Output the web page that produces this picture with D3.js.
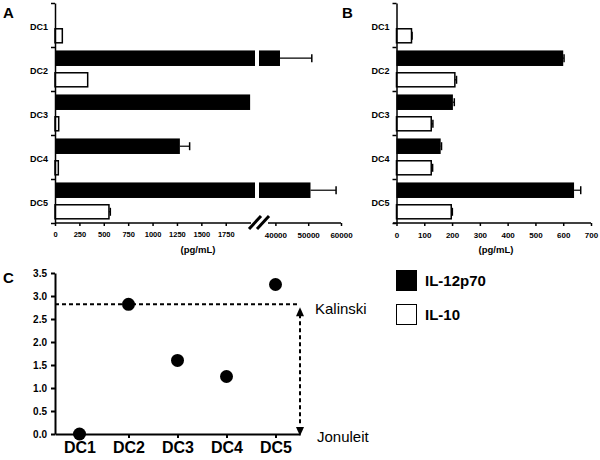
<!DOCTYPE html>
<html>
<head>
<meta charset="utf-8">
<script src="https://cdn.jsdelivr.net/npm/d3@7"></script>
<style>
  body { margin: 0; background: #fff; }
  svg { display: block; font-family: "Liberation Sans", Arial, sans-serif; }
</style>
</head>
<body>
<div id="chart"></div>
<script>
var categories = ['DC1', 'DC2', 'DC3', 'DC4', 'DC5'];
var series = ['IL-12p70', 'IL-10'];

// panel A (broken axis)
var aIL12 = [0, 41400, 2000, 1280, 50700];
var aIL12Err = [0, 9700, 0, 100, 7800];
var aIL10 = [75, 335, 38, 34, 553];
var aIL10Err = [0, 0, 0, 0, 14];
var aTicksLow = [0, 250, 500, 750, 1000, 1250, 1500, 1750];
var aTicksHigh = [40000, 50000, 60000];

// panel B
var bIL12 = [0, 600, 203, 159, 639];
var bIL12Err = [0, 3, 5, 3, 24];
var bIL10 = [54, 210, 125, 125, 197];
var bIL10Err = [2, 6, 6, 5, 4];
var bTicks = [0, 100, 200, 300, 400, 500, 600, 700];

// panel C
var cRatio = [0, 2.82, 1.6, 1.25, 3.25];
var cTicks = [0, 0.5, 1, 1.5, 2, 2.5, 3, 3.5];
var kalinski = 2.82;

var svg = d3.select('#chart')
	.append('svg')
	.attr('width', 600)
	.attr('height', 460);

function panelLabel(t, x, y) {
	svg.append('text').text(t)
		.attr('x', x).attr('y', y)
		.style('font-size', '15px')
		.style('font-weight', 'bold');
}

function styleAxis(g, fs) {
	g.selectAll('path, line').attr('stroke', '#000').attr('stroke-width', 1.5);
	g.selectAll('text')
		.style('font-family', '"Liberation Sans", Arial, sans-serif')
		.style('font-size', fs + 'px')
		.style('font-weight', 'bold')
		.attr('fill', '#000');
}

// shared vertical band layout for A and B
var yBand = d3.scaleBand().domain(categories).range([3, 223]);
var ySub = d3.scaleBand().domain(series).range([0, yBand.bandwidth()])
	.paddingInner(0.28).paddingOuter(0.16);

function catAxis(x0) {
	var ticks = svg.append('g')
		.attr('transform', 'translate(' + x0 + ',0)')
		.call(d3.axisLeft(d3.scaleLinear().domain([0, 5]).range([3, 223]))
			.ticks(5).tickSize(4).tickSizeOuter(0).tickFormat(''));
	styleAxis(ticks, 8);
	var labels = svg.append('g')
		.attr('transform', 'translate(' + (x0 - 7) + ',2)')
		.call(d3.axisLeft(yBand).tickSize(0).tickPadding(0));
	labels.select('.domain').remove();
	styleAxis(labels, 9);
}

function errBars(g, vals, errs, key, xf) {
	var d = categories.map(function(c, i) { return {c: c, v: vals[i], e: errs[i]}; })
		.filter(function(o) { return o.e > 0; });
	var eg = g.selectAll('.err-' + key).data(d).enter().append('g');
	eg.append('line')
		.attr('x1', function(o) { return xf(o.v); })
		.attr('x2', function(o) { return xf(o.v + o.e); })
		.attr('y1', function(o) { return yBand(o.c) + ySub(key) + ySub.bandwidth() / 2; })
		.attr('y2', function(o) { return yBand(o.c) + ySub(key) + ySub.bandwidth() / 2; })
		.attr('stroke', '#000').attr('stroke-width', 1.2);
	eg.append('line')
		.attr('x1', function(o) { return xf(o.v + o.e); })
		.attr('x2', function(o) { return xf(o.v + o.e); })
		.attr('y1', function(o) { return yBand(o.c) + ySub(key) + ySub.bandwidth() / 2 - 4; })
		.attr('y2', function(o) { return yBand(o.c) + ySub(key) + ySub.bandwidth() / 2 + 4; })
		.attr('stroke', '#000').attr('stroke-width', 1.5);
}

// ---------- panel A ----------
var xLow = d3.scaleLinear().domain([0, 2050]).range([55, 255]);
var xHigh = d3.scaleLinear().domain([35000, 60000]).range([259, 341]);
function xA(v) { return v <= 2050 ? xLow(v) : xHigh(v); }

var gA = svg.append('g');
var il12A = categories.map(function(c, i) { return {c: c, v: aIL12[i]}; });
// low segment
gA.selectAll('.a12low').data(il12A.filter(function(d) { return d.v > 0; })).enter()
	.append('rect')
	.attr('x', xLow(0))
	.attr('y', function(d) { return yBand(d.c) + ySub('IL-12p70'); })
	.attr('width', function(d) { return xLow(Math.min(d.v, 2050)) - xLow(0); })
	.attr('height', ySub.bandwidth())
	.attr('fill', '#000');
// high segment (past the break)
gA.selectAll('.a12high').data(il12A.filter(function(d) { return d.v > 2050; })).enter()
	.append('rect')
	.attr('x', xHigh.range()[0])
	.attr('y', function(d) { return yBand(d.c) + ySub('IL-12p70'); })
	.attr('width', function(d) { return xHigh(d.v) - xHigh.range()[0]; })
	.attr('height', ySub.bandwidth())
	.attr('fill', '#000');
gA.selectAll('.a10').data(categories).enter()
	.append('rect')
	.attr('x', xLow(0))
	.attr('y', function(c) { return yBand(c) + ySub('IL-10') + 0.75; })
	.attr('width', function(c, i) { return xLow(aIL10[i]) - xLow(0); })
	.attr('height', ySub.bandwidth() - 1.5)
	.attr('fill', '#fff').attr('stroke', '#000').attr('stroke-width', 1.5);
errBars(gA, aIL12, aIL12Err, 'IL-12p70', xA);
errBars(gA, aIL10, aIL10Err, 'IL-10', xA);

var axLow = svg.append('g').attr('transform', 'translate(0,223)')
	.call(d3.axisBottom(xLow).tickValues(aTicksLow).tickFormat(d3.format('d'))
		.tickSize(3).tickSizeOuter(0).tickPadding(6));
axLow.select('.domain').attr('d', 'M' + xLow(0) + ',0H251');
styleAxis(axLow, 7.5);
var axHigh = svg.append('g').attr('transform', 'translate(0,223)')
	.call(d3.axisBottom(xHigh).tickValues(aTicksHigh).tickFormat(d3.format('d'))
		.tickSize(3).tickSizeOuter(0).tickPadding(6));
axHigh.select('.domain').attr('d', 'M268,0H' + xHigh(60000));
styleAxis(axHigh, 8);
// break marks
[0, 8].forEach(function(dx) {
	svg.append('line')
		.attr('x1', 249 + dx).attr('y1', 229)
		.attr('x2', 261 + dx).attr('y2', 216)
		.attr('stroke', '#000').attr('stroke-width', 3);
});
catAxis(55);
svg.append('text').text('(pg/mL)')
	.attr('x', 198).attr('y', 253).attr('text-anchor', 'middle')
	.style('font-size', '9.5px').style('font-weight', 'bold');
panelLabel('A', 3, 18);

// ---------- panel B ----------
var xB = d3.scaleLinear().domain([0, 700]).range([396.5, 591]);
var gB = svg.append('g');
gB.selectAll('.b12').data(categories).enter()
	.append('rect')
	.attr('x', xB(0))
	.attr('y', function(c) { return yBand(c) + ySub('IL-12p70'); })
	.attr('width', function(c, i) { return xB(bIL12[i]) - xB(0); })
	.attr('height', ySub.bandwidth())
	.attr('fill', '#000');
gB.selectAll('.b10').data(categories).enter()
	.append('rect')
	.attr('x', xB(0))
	.attr('y', function(c) { return yBand(c) + ySub('IL-10') + 0.75; })
	.attr('width', function(c, i) { return xB(bIL10[i]) - xB(0); })
	.attr('height', ySub.bandwidth() - 1.5)
	.attr('fill', '#fff').attr('stroke', '#000').attr('stroke-width', 1.5);
errBars(gB, bIL12, bIL12Err, 'IL-12p70', xB);
errBars(gB, bIL10, bIL10Err, 'IL-10', xB);
var axB = svg.append('g').attr('transform', 'translate(0,223)')
	.call(d3.axisBottom(xB).tickValues(bTicks).tickSize(3).tickSizeOuter(0).tickPadding(6));
axB.select('.domain').attr('d', 'M393,0H' + xB(700));
styleAxis(axB, 8);
catAxis(396.5);
svg.append('text').text('(pg/mL)')
	.attr('x', 496).attr('y', 253).attr('text-anchor', 'middle')
	.style('font-size', '9.5px').style('font-weight', 'bold');
panelLabel('B', 342, 18);

// ---------- panel C ----------
var xC = d3.scalePoint().domain(categories).range([55, 300]).padding(0.5);
var yC = d3.scaleLinear().domain([0, 3.5]).range([434, 273]);

var axCy = svg.append('g').attr('transform', 'translate(55,0)')
	.call(d3.axisLeft(yC).tickValues(cTicks).tickFormat(d3.format('.1f'))
		.tickSize(4).tickSizeOuter(0).tickPadding(4));
styleAxis(axCy, 10);
axCy.selectAll('path, line').attr('stroke-width', 2);
var axCx = svg.append('g').attr('transform', 'translate(0,434)')
	.call(d3.axisBottom(xC).tickSize(4).tickSizeOuter(0).tickPadding(4));
styleAxis(axCx, 16);
axCx.selectAll('path, line').attr('stroke-width', 2);

// threshold lines
svg.append('line')
	.attr('x1', 55).attr('x2', 300)
	.attr('y1', yC(kalinski)).attr('y2', yC(kalinski))
	.attr('stroke', '#000').attr('stroke-width', 2).attr('stroke-dasharray', '4,3');
svg.append('line')
	.attr('x1', 300).attr('x2', 300)
	.attr('y1', yC(kalinski) + 10).attr('y2', yC(0) - 8)
	.attr('stroke', '#000').attr('stroke-width', 2).attr('stroke-dasharray', '4,3');
svg.append('path')
	.attr('d', 'M300,' + (yC(kalinski) + 3) + 'l-4,9h8z')
	.attr('fill', '#000');
svg.append('path')
	.attr('d', 'M300,' + (yC(0) + 2) + 'l-4,-9h8z')
	.attr('fill', '#000');

svg.selectAll('.dot').data(categories).enter()
	.append('circle')
	.attr('cx', function(c) { return xC(c); })
	.attr('cy', function(c, i) { return yC(cRatio[i]); })
	.attr('r', 6.5)
	.attr('fill', '#000');

svg.append('text').text('Kalinski')
	.attr('x', 315).attr('y', yC(kalinski) + 10)
	.style('font-size', '15px');
svg.append('text').text('Jonuleit')
	.attr('x', 317).attr('y', yC(0) + 8)
	.style('font-size', '15px');
panelLabel('C', 3, 283);

// legend
var leg = svg.append('g');
leg.selectAll('rect').data(series).enter()
	.append('rect')
	.attr('x', 396.5)
	.attr('y', function(d, i) { return 270.5 + i * 34; })
	.attr('width', 20).attr('height', 20)
	.attr('fill', function(d, i) { return i === 0 ? '#000' : '#fff'; })
	.attr('stroke', '#000').attr('stroke-width', 1);
leg.selectAll('text').data(series).enter()
	.append('text')
	.text(function(d) { return d; })
	.attr('x', 425)
	.attr('y', function(d, i) { return 286 + i * 34; })
	.style('font-size', '15px').style('font-weight', 'bold');
</script>
</body>
</html>
